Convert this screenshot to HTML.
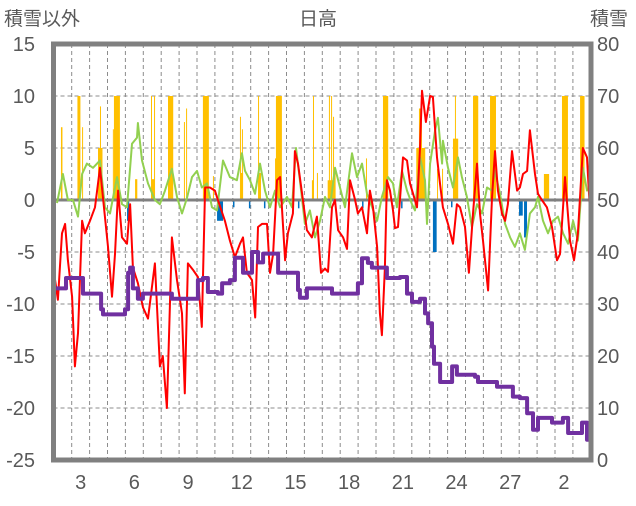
<!DOCTYPE html>
<html><head><meta charset="utf-8"><style>
html,body{margin:0;padding:0;background:#fff;}
svg text{font-family:"Liberation Sans","Noto Sans CJK JP",sans-serif;fill:#595959;}
</style></head><body>
<svg id="chart" width="636" height="501" viewBox="0 0 636 501" xmlns="http://www.w3.org/2000/svg">
<text x="318" y="25" font-size="19" text-anchor="middle">日高</text>
<text x="4" y="25" font-size="19">積雪以外</text>
<text x="590" y="25" font-size="19">積雪</text>
<g id="grid"></g>
<g id="bars"></g>
<g id="lines"></g>
<g id="axes"></g>
</svg>
<script>
const leftTicks=[15,10,5,0,-5,-10,-15,-20,-25];
const rightTicks=[80,70,60,50,40,30,20,10,0];
const xTickDays=[2.5,5.5,8.5,11.5,14.5,17.5,20.5,23.5,26.5,29.5];
const xTickLabels=["3","6","9","12","15","18","21","24","27","2"];
const redT=[1.07,1.23,1.46,1.63,1.79,2.02,2.18,2.35,2.58,2.74,3.02,3.30,3.58,3.75,4.03,4.25,4.42,4.59,4.81,5.09,5.26,5.42,5.70,5.98,6.26,6.65,6.93,7.09,7.32,7.60,7.88,8.16,8.32,8.49,8.77,9.05,9.27,9.45,9.72,10.0,10.17,10.56,10.84,11.12,11.40,11.57,11.79,12.07,12.25,12.41,12.63,12.91,13.08,13.25,13.47,13.64,13.92,14.08,14.36,14.47,14.64,14.87,15.14,15.42,15.70,15.93,16.15,16.32,16.54,16.71,16.88,17.16,17.38,17.55,17.83,17.99,18.22,18.50,18.66,18.83,19.06,19.22,19.33,19.50,19.61,19.78,19.95,20.06,20.23,20.51,20.73,20.90,21.07,21.29,21.46,21.57,21.79,22.02,22.18,22.41,22.58,22.74,23.02,23.30,23.52,23.69,23.97,24.19,24.42,24.64,24.81,24.98,25.26,25.48,25.65,25.81,26.04,26.21,26.37,26.60,26.88,27.04,27.21,27.44,27.60,27.88,28.05,28.27,28.55,28.83,29.11,29.28,29.56,29.84,30.06,30.28,30.56,30.79,30.96];
const redV=[-7.7,-9.6,-3.2,-2.3,-5.8,-9.3,-16,-12.8,-2,-3.2,-2,-0.7,3.1,0.2,-4.5,-9.3,-5.2,0.9,-3.6,-4.2,-0.4,-6.5,-8,-10.3,-11.4,-6.1,-16,-15,-20,-3.6,-7.7,-10.9,-18.6,-6.1,-6.7,-7.4,-12.2,1.2,1.2,0.9,0,-2,-3.9,-5.5,-4.2,-3.6,-7,-7.7,-11.3,-2.6,-2.3,-2.3,-7,-5.2,1.9,2.2,-5.8,-3.2,-1.3,4.7,3.5,0.6,-2.9,-3.6,-1.6,-7,-6.6,-6.9,-0.7,0,-2.9,-3.6,-4.7,1.9,0,-1.3,-0.7,-3.2,0.9,-0.7,-4.5,-10.9,-13,-6.5,1.9,0.9,-1,-2.7,-2.6,4.1,3.8,1.6,0.6,-0.7,5,10.5,7.5,10,9.9,4.1,1.5,-0.7,-2.3,-4.2,-0.4,-0.7,-2.6,-7,-1.3,3.5,-1.3,-3.9,-8.7,0.2,4.7,0.9,-1.3,-2,-0.4,4.7,0.9,1.2,2.5,2.8,6.7,2.5,0.6,0,-0.7,-2.6,-5.8,-5.2,2.2,-3.9,-5.8,-3.2,5,4.1,-1.3];
const greenT=[1.18,1.51,1.79,2.07,2.35,2.58,2.85,3.19,3.58,3.86,4.14,4.53,4.81,5.09,5.37,5.65,5.70,5.93,6.26,6.65,6.93,7.21,7.60,7.88,8.16,8.44,8.72,9.00,9.27,9.56,9.84,10.12,10.45,10.84,11.23,11.51,11.68,11.96,12.24,12.52,12.80,13.08,13.36,13.64,14.03,14.31,14.53,14.75,15.03,15.31,15.59,15.87,16.15,16.43,16.71,16.99,17.27,17.66,17.94,18.22,18.50,18.78,19.06,19.33,19.67,19.95,20.17,20.45,20.73,21.01,21.18,21.46,21.74,21.85,22.02,22.30,22.46,22.69,22.74,23.02,23.30,23.58,23.80,24.08,24.36,24.64,24.92,25.20,25.48,25.65,25.93,26.21,26.49,26.76,27.04,27.32,27.60,27.88,28.05,28.33,28.61,28.89,29.17,29.45,29.73,30.01,30.28,30.56,30.79,30.96];
const greenV=[-0.3,2.5,0,0,-1.6,2.5,3.5,3.1,3.8,-0.7,-1.3,2.2,-0.4,-0.7,5.4,6,7.4,3.8,1.6,0,-0.4,0.9,3,0.3,-1.3,0.2,2.2,2.8,1.2,1.6,-0.7,-1,3.8,2.2,1.9,4.5,2.8,1.9,0.6,3.5,0.9,-0.7,0.9,-0.7,0.3,-0.7,5,1.9,-2.3,-1,-3.6,-2,0.3,-0.7,3.1,1.2,-0.7,4.5,2.2,3.5,0.6,-0.7,-2,0.3,2.2,1.6,-0.7,2.8,0.9,-0.4,-1,4.1,1.9,-2.3,3.5,6.7,7.9,3.5,5.7,3.1,1.2,4.1,2.2,0.3,-2.6,-0.4,-1.3,1.2,0.9,2.8,0.6,-2.3,-3.6,-4.5,-3.2,-4.8,-1.3,-0.7,0.3,-2,-3.2,-2,-1.6,-3.2,-4.2,-2,-3.9,3.1,0.9,1.2];
const snowT=[1.12,1.46,1.68,2.35,2.63,3.41,3.64,3.75,4.98,5.15,5.26,5.42,5.70,5.98,7.49,7.60,8.77,9.05,9.33,9.61,10.17,10.40,10.84,11.12,11.57,11.68,12.07,12.41,12.69,13.36,13.53,14.31,14.64,14.75,15.14,16.32,16.54,17.83,17.99,18.22,18.55,18.77,19.50,19.61,20.34,20.73,21.01,21.46,21.74,21.91,22.13,22.24,22.58,22.97,23.25,23.52,24.53,24.70,25.54,25.76,26.49,26.65,27.04,27.44,27.77,28.05,28.61,28.83,29.28,29.44,29.73,30.23,30.51,30.79,30.96];
const snowV=[33,33,35,35,32,32,29,28,29,36,37,33,31,32,32,31,31,34.6,35,32.3,32,34,34.6,38.9,36,36,40,38,39.7,39.7,36,36,32.7,31.2,33,33,32,32,34,38.8,37.9,37,37,35,35.2,32,30.4,31,28.2,26.3,21.8,18.5,15,15,18,16.4,16,15,15,14.1,14.1,12.2,11.9,9,5.8,8.1,8.1,7.2,7.2,8.1,5.2,5.2,7.2,3.9,3.9];
const yellowT=[1.40,2.32,2.58,3.47,3.58,4.30,4.36,5.54,6.43,6.48,6.60,7.38,8.27,8.39,9.33,9.89,11.40,11.45,11.51,12.41,12.45,13.36,13.41,15.42,15.48,15.70,16.30,16.37,16.49,16.60,16.66,18.44,19.39,21.25,21.40,22.41,22.69,23.30,23.41,24.42,25.37,28.38,29.39,30.40];
const yellowV=[7,10,7,5,9,6.8,10,2,10,2,10,10,7.5,8.8,10,2.3,8,2.6,6.8,10,2.6,4,10,1.9,10,2.6,1.9,10,10,8,2.6,4,10,5,8.8,3,3,5.9,10,10,10,2.5,10,10];
const yellowH=[2,4,1,6,1,1,8,3,1,4,1,7,1,1,8,1,1,3,1,1,3,1,8,2,1,1,10,1,1,1,2,1,7,12,4,1,1,7,1,7,8,7,8,6];
const blueT=[5.09,10.12,11.01,11.90,12.74,14.64,18.22,20.40,22.18,23.19,26.99,27.27];
const blueV=[-2,-2,-0.7,-0.8,-0.8,-0.8,-0.8,-0.8,-5,-0.7,-1.5,-3.6];
const blueH=[3,8,2,2,2,2,2,2,5,2,5,4];

const NS='http://www.w3.org/2000/svg';
const X0=53.5,X1=591,Y0=44,Y1=460;
function xs(t){return 35.9+t*17.9;}
function yl(v){return 200-v*10.4;}
function yr(v){return 460-v*5.2;}
function mk(tag,attrs,parent){const e=document.createElementNS(NS,tag);for(const k in attrs)e.setAttribute(k,attrs[k]);parent.appendChild(e);return e;}
const grid=document.getElementById('grid'),bars=document.getElementById('bars'),lines=document.getElementById('lines'),axes=document.getElementById('axes');
leftTicks.forEach(v=>{
  if(v===15||v===-25||v===0)return;
  const l=mk('line',{x1:X0,x2:X1,y1:yl(v),y2:yl(v),stroke:'#8c8c8c','stroke-width':1,'stroke-dasharray':'4,3'},grid);
  
  
});
for(let d=2;d<=30;d++){
  const x=xs(d);if(x<=X0+2||x>=X1-2)continue;
  const l=mk('line',{x1:x,x2:x,y1:Y0,y2:Y1,stroke:'#8c8c8c','stroke-width':1,'stroke-dasharray':'4,3'},grid);
  
  
}
const hw=17.9/24;
yellowT.forEach((t,i)=>{
  const v=yellowV[i],w=Math.max(1,yellowH[i]*hw);
  const r=mk('rect',{x:xs(t),y:yl(v),width:w,height:yl(0)-yl(v),fill:'#ffc000'},bars);
  
  
});
blueT.forEach((t,i)=>{
  const v=blueV[i],w=Math.max(1.5,blueH[i]*hw);
  const r=mk('rect',{x:xs(t),y:yl(0),width:w,height:yl(v)-yl(0),fill:'#0070c0'},bars);
  
  
});
const zl=mk('line',{x1:X0,x2:X1,y1:yl(0),y2:yl(0),stroke:'#808080','stroke-width':3},bars);


function path(T,V,f){return T.map((t,i)=>(i?'L':'M')+xs(t).toFixed(1)+','+f(V[i]).toFixed(1)).join('');}
function stepPath(T,V,f){let d='M'+xs(T[0]).toFixed(1)+','+f(V[0]).toFixed(1);for(let i=1;i<T.length;i++){d+='H'+xs(T[i]).toFixed(1)+'V'+f(V[i]).toFixed(1);}return d;}
const cp=mk('clipPath',{id:'cp'},lines);mk('rect',{x:X0,y:Y0,width:X1-X0,height:Y1-Y0},cp);
const g=mk('path',{d:path(greenT,greenV,yl),fill:'none',stroke:'#92d050','stroke-width':2,'stroke-linejoin':'round','clip-path':'url(#cp)'},lines);


const r=mk('path',{d:path(redT,redV,yl),fill:'none',stroke:'#ff0000','stroke-width':2,'stroke-linejoin':'round','clip-path':'url(#cp)'},lines);


const s=mk('path',{d:stepPath(snowT,snowV,yr),fill:'none',stroke:'#7030a0','stroke-width':4,'stroke-linejoin':'round','clip-path':'url(#cp)'},lines);


const b=mk('rect',{x:X0,y:Y0,width:X1-X0,height:Y1-Y0,fill:'none',stroke:'#808080','stroke-width':5},axes);


leftTicks.forEach(v=>{
  const t=mk('text',{x:35,y:yl(v)+7,'font-size':20,'text-anchor':'end'},axes);t.textContent=v;
  
  
});
rightTicks.forEach(v=>{
  const t=mk('text',{x:597,y:yr(v)+7,'font-size':20},axes);t.textContent=v;
  
  
});
xTickDays.forEach((d,i)=>{
  const t=mk('text',{x:xs(d),y:489,'font-size':20,'text-anchor':'middle'},axes);t.textContent=xTickLabels[i];
  
  
});
</script>
</body></html>
